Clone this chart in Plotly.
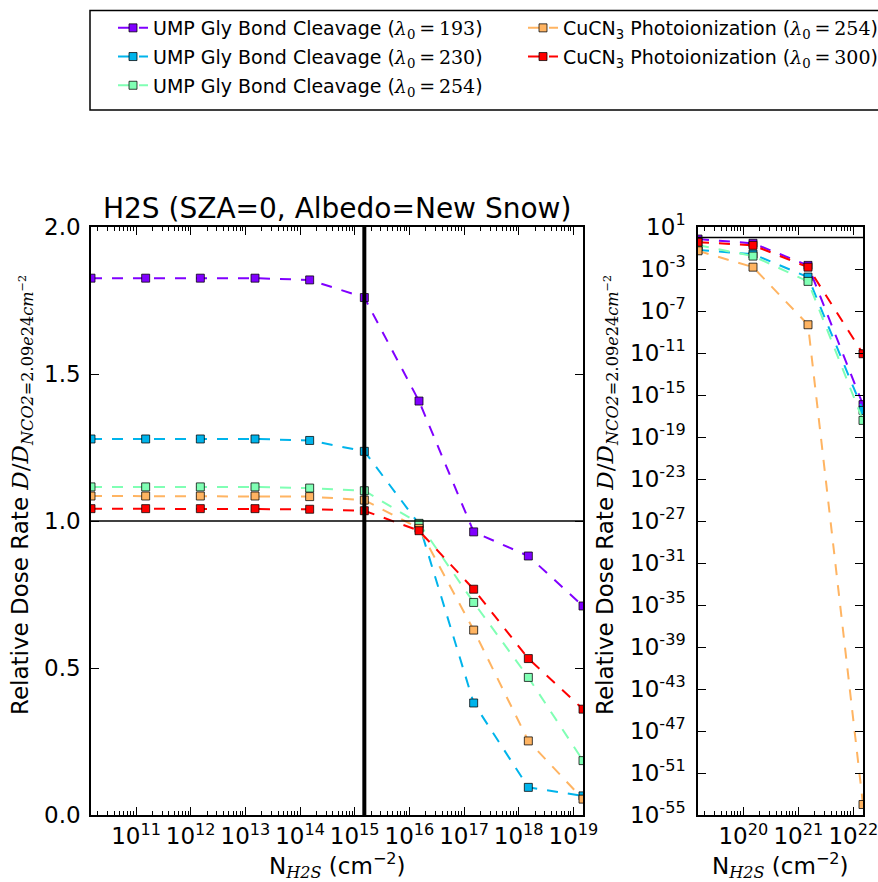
import math
import plotly.graph_objects as go

W, H = 878, 882

# ---------------- data ----------------
SERIF = "DejaVu Serif"
def lam(v):
    return ('(<span style="font-family:%s"><i>λ</i><sub>0</sub>\u2009=\u2009%d</span>)' % (SERIF, v))

series_names = [
    "UMP Gly Bond Cleavage " + lam(193),
    "UMP Gly Bond Cleavage " + lam(230),
    "UMP Gly Bond Cleavage " + lam(254),
    "CuCN<sub>3</sub> Photoionization " + lam(254),
    "CuCN<sub>3</sub> Photoionization " + lam(300),
]
colors = ["#8000ff", "#00b4eb", "#80ffb4", "#ffb462", "#ff0000"]
legend_ids = ["legend", "legend", "legend", "legend2", "legend2"]

n_left = [1.5e10, 1.5e11, 1.5e12, 1.5e13, 1.5e14, 1.5e15, 1.5e16, 1.5e17, 1.5e18, 1.5e19]
ump193_left = [1.826, 1.826, 1.826, 1.826, 1.820, 1.760, 1.408, 0.963, 0.881, 0.711]
ump230_left = [1.279, 1.279, 1.279, 1.279, 1.274, 1.237, 0.990, 0.381, 0.094, 0.065]
ump254_left = [1.116, 1.116, 1.116, 1.116, 1.112, 1.103, 0.992, 0.723, 0.468, 0.185]
cu254_left = [1.085, 1.085, 1.085, 1.085, 1.083, 1.071, 0.975, 0.629, 0.252, 0.054]
cu300_left = [1.042, 1.042, 1.042, 1.042, 1.040, 1.035, 0.967, 0.768, 0.532, 0.360]

n_right = [1.5e19, 1.5e20, 1.5e21, 1.5e22]
ump193_right = [0.711, 0.28, 2.2e-3, 1.2e-16]
ump230_right = [0.065, 0.026, 1.7e-4, 3.4e-17]
ump254_right = [0.185, 0.017, 6.6e-5, 3.8e-18]
cu254_right = [0.054, 1.5e-3, 4.9e-9, 1.0e-54]
cu300_right = [0.360, 0.18, 1.5e-3, 8.5e-12]

left_series = [ump193_left, ump230_left, ump254_left, cu254_left, cu300_left]
right_series = [ump193_right, ump230_right, ump254_right, cu254_right, cu300_right]

ref_column = 1.5e15   # thick vertical marker line (left panel)
ref_ratio = 1.0       # horizontal reference line

left_xticks = [1e11, 1e12, 1e13, 1e14, 1e15, 1e16, 1e17, 1e18, 1e19]
left_xticktext = ["10<sup>%d</sup>" % e for e in range(11, 20)]
left_yticks = [0.0, 0.5, 1.0, 1.5, 2.0]
left_yticktext = ["0.0", "0.5", "1.0", "1.5", "2.0"]
right_xticks = [1e20, 1e21, 1e22]
right_xticktext = ["10<sup>20</sup>", "10<sup>21</sup>", "10<sup>22</sup>"]
right_yexp = list(range(1, -56, -4))
right_yticks = [10.0 ** e for e in right_yexp]
right_yticktext = ["10<sup>%d</sup>" % e for e in right_yexp]

# ---------------- figure ----------------
FONT = "DejaVu Sans"
fig = go.Figure()

def px_x(p):
    return p / W

def px_y(p):
    return 1 - p / H

dash = "11px,10px"
for i in range(5):
    fig.add_trace(go.Scatter(
        x=n_left, y=left_series[i], mode="lines+markers", name=series_names[i],
        line=dict(color=colors[i], width=2, dash=dash),
        marker=dict(symbol="square", size=8, color=colors[i],
                    line=dict(color="rgba(0,0,0,0.75)", width=1)),
        xaxis="x", yaxis="y", legend=legend_ids[i], legendgroup="g%d" % i,
    ))
for i in range(5):
    fig.add_trace(go.Scatter(
        x=n_right, y=right_series[i], mode="lines+markers", name=series_names[i],
        line=dict(color=colors[i], width=2, dash=dash),
        marker=dict(symbol="square", size=8, color=colors[i],
                    line=dict(color="rgba(0,0,0,0.75)", width=1)),
        xaxis="x2", yaxis="y2", showlegend=False, legendgroup="g%d" % i,
    ))

axis_common = dict(showline=True, linecolor="black", linewidth=1.5, mirror="allticks",
                   ticks="inside", ticklen=8, tickwidth=1, tickcolor="black",
                   showgrid=False, zeroline=False, ticklabeloverflow="allow",
                   tickfont=dict(family=FONT, size=23, color="black"))

legend_common = dict(xanchor="left", yanchor="top", orientation="v",
                     font=dict(family=FONT, size=19, color="black"),
                     bgcolor="rgba(0,0,0,0)", borderwidth=0, tracegroupgap=1,
                     traceorder="grouped")

fig.update_layout(
    width=W, height=H, autosize=False,
    margin=dict(l=0, r=0, t=0, b=0, autoexpand=False),
    paper_bgcolor="white", plot_bgcolor="white",
    font=dict(family=FONT, color="black"),
    xaxis=dict(domain=[px_x(91), px_x(583)], type="log", anchor="y",
               range=[math.log10(n_left[0]), math.log10(n_left[-1])],
               tickvals=left_xticks, ticktext=left_xticktext, ticklabelstandoff=0,
               minor=dict(ticks="inside", ticklen=4, tickcolor="black", dtick="D1"),
               **axis_common),
    yaxis=dict(domain=[px_y(815), px_y(227)], anchor="x", range=[0, 2],
               tickvals=left_yticks, ticktext=left_yticktext, ticklabelstandoff=4,
               **axis_common),
    xaxis2=dict(domain=[px_x(698), px_x(863)], type="log", anchor="y2",
                range=[math.log10(n_right[0]), math.log10(n_right[-1])],
                tickvals=right_xticks, ticktext=right_xticktext, ticklabelstandoff=0,
                minor=dict(ticks="inside", ticklen=4, tickcolor="black", dtick="D1"),
                **axis_common),
    yaxis2=dict(domain=[px_y(815), px_y(227)], anchor="x2", type="log",
                range=[-55, 1], tickvals=right_yticks, ticktext=right_yticktext,
                ticklabelstandoff=6, **axis_common),
    legend=dict(x=px_x(113), y=px_y(9), **legend_common),
    legend2=dict(x=px_x(523), y=px_y(9), **legend_common),
    showlegend=True,
)

# legend frame
fig.add_shape(type="rect", xref="paper", yref="paper",
              x0=px_x(90), x1=px_x(900), y0=px_y(110), y1=px_y(10.5),
              line=dict(color="black", width=1.5), fillcolor="rgba(0,0,0,0)")

# reference lines
fig.add_shape(type="line", xref="x", yref="y domain", x0=ref_column, x1=ref_column, y0=0, y1=1,
              line=dict(color="black", width=4))
fig.add_shape(type="line", xref="x domain", yref="y", x0=0, x1=1, y0=ref_ratio, y1=ref_ratio,
              line=dict(color="black", width=1.5))
fig.add_shape(type="line", xref="x2 domain", yref="y2", x0=0, x1=1, y0=ref_ratio, y1=ref_ratio,
              line=dict(color="black", width=1.5))

ytitle = ('Relative Dose Rate <span style="font-family:%s"><i>D</i>/<i>D</i>'
          '<sub><i>NCO2</i>=2.09<i>e</i>24<i>cm</i><sup>−2</sup></sub></span>' % SERIF)
xtitle = 'N<sub><span style="font-family:%s"><i>H2S</i></span></sub> (cm<sup>−2</sup>)' % SERIF
ann_font = dict(family=FONT, size=23, color="black")
fig.add_annotation(text="H2S (SZA=0, Albedo=New Snow)", xref="paper", yref="paper",
                   x=px_x(337), y=px_y(208), showarrow=False, xanchor="center", yanchor="middle",
                   font=dict(family=FONT, size=28, color="black"))
fig.add_annotation(text=ytitle, xref="paper", yref="paper", x=px_x(22), y=px_y(495),
                   textangle=-90, showarrow=False, xanchor="center", yanchor="middle", font=ann_font)
fig.add_annotation(text=ytitle, xref="paper", yref="paper", x=px_x(607), y=px_y(495),
                   textangle=-90, showarrow=False, xanchor="center", yanchor="middle", font=ann_font)
fig.add_annotation(text=xtitle, xref="paper", yref="paper", x=px_x(337), y=px_y(865),
                   showarrow=False, xanchor="center", yanchor="middle", font=ann_font)
fig.add_annotation(text=xtitle, xref="paper", yref="paper", x=px_x(780), y=px_y(865),
                   showarrow=False, xanchor="center", yanchor="middle", font=ann_font)

fig.write_html("out.html")
